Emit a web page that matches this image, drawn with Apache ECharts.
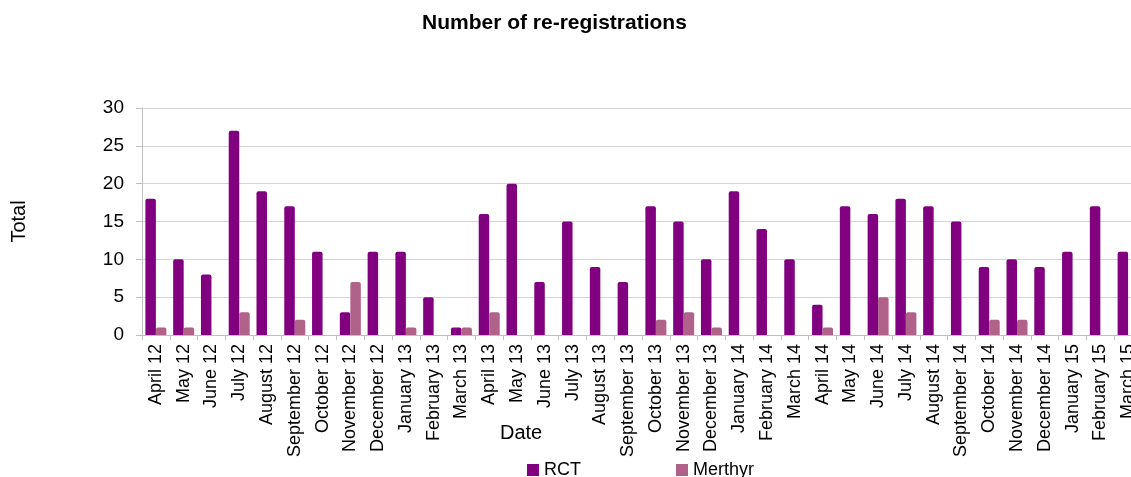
<!DOCTYPE html>
<html><head><meta charset="utf-8">
<script src="https://cdn.jsdelivr.net/npm/echarts@6/dist/echarts.min.js"></script>
<style>html,body{margin:0;padding:0;background:#fff;overflow:hidden}#c{width:1150px;height:477px}</style>
</head><body><div id="c"></div>
<script>
const categories = ["April 12","May 12","June 12","July 12","August 12","September 12","October 12","November 12","December 12","January 13","February 13","March 13","April 13","May 13","June 13","July 13","August 13","September 13","October 13","November 13","December 13","January 14","February 14","March 14","April 14","May 14","June 14","July 14","August 14","September 14","October 14","November 14","December 14","January 15","February 15","March 15"];
const rct = [18,10,8,27,19,17,11,3,11,11,5,1,16,20,7,15,9,7,17,15,10,19,14,10,4,17,16,18,17,15,9,10,9,11,17,11];
const merthyr = [1,1,0,3,0,2,0,7,0,1,0,1,3,0,0,0,0,0,2,3,1,0,0,0,1,0,5,3,0,0,2,2,0,0,0,0];
const yTicks = [0,5,10,15,20,25,30];

const chart = echarts.init(document.getElementById('c'));
const font = 'Liberation Sans, Arial, sans-serif';
chart.setOption({
  animation: false,
  textStyle: {fontFamily: font},
  title: {text: 'Number of re-registrations', left: 417, top: 8,
    textStyle: {fontFamily: font, fontSize: 21, fontWeight: 'bold', color: '#000'}},
  legend: {left: 522, top: 456, itemWidth: 12, itemHeight: 12, itemGap: 95,
    icon: 'rect', textStyle: {fontFamily: font, fontSize: 18, color: '#000'},
    data: ['RCT','Merthyr']},
  graphic: [{type: 'text', left: 500, top: 423,
    style: {text: 'Date', font: '20px Liberation Sans, Arial, sans-serif', fill: '#000'}}],
  grid: {left: 142, top: 108, width: 1000, height: 227},
  xAxis: {type: 'category', data: categories,
    axisLine: {lineStyle: {color: '#bfbfbf'}},
    axisTick: {show: true, length: 5, lineStyle: {color: '#bfbfbf'}},
    axisLabel: {rotate: 90, interval: 0, fontFamily: font, fontSize: 18, color: '#000', margin: 9}},
  yAxis: {type: 'value', min: 0, max: 30, interval: 5, name: 'Total', nameLocation: 'middle', nameGap: 113,
    nameMoveOverlap: false,
    nameTextStyle: {fontFamily: font, fontSize: 20, color: '#000'},
    axisLine: {show: true, lineStyle: {color: '#bfbfbf'}},
    axisTick: {show: true, length: 6, lineStyle: {color: '#bfbfbf'}},
    splitLine: {lineStyle: {color: '#d4d4d4'}},
    axisLabel: {fontFamily: font, fontSize: 19, color: '#000', margin: 18,
      formatter: v => yTicks.includes(v) ? String(v) : ''}},
  series: [
    {name: 'RCT', type: 'bar', data: rct, barWidth: 10.5, barGap: '0%',
      itemStyle: {color: '#800080', borderRadius: [2,2,0,0]}},
    {name: 'Merthyr', type: 'bar', data: merthyr, barWidth: 10.5,
      itemStyle: {color: '#b0628a', borderRadius: [2,2,0,0]}}
  ]
});
</script></body></html>
